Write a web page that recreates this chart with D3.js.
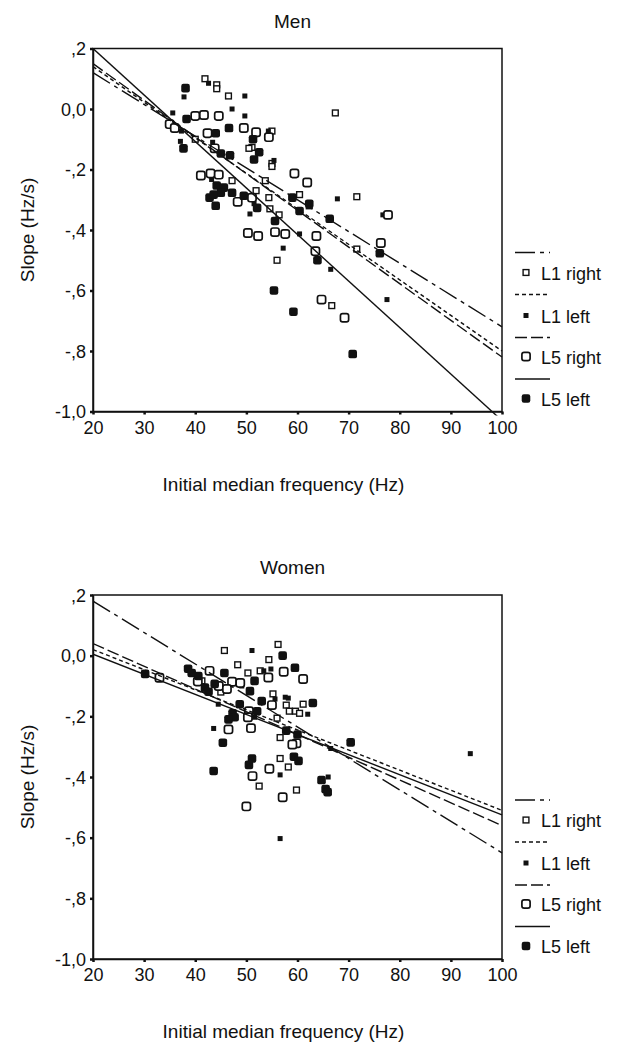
<!DOCTYPE html>
<html><head><meta charset="utf-8">
<script src="https://cdn.jsdelivr.net/npm/d3@7"></script>
<style>body{margin:0;background:#fff}svg{display:block}text{font-family:"Liberation Sans",Arial,sans-serif;fill:#111}</style>
</head><body>
<svg id="c" width="618" height="1042"></svg>
<script>
const xTicks = [20,30,40,50,60,70,80,90,100];
const yTicks = [0.2,0,-0.2,-0.4,-0.6,-0.8,-1.0];
const yTickLabels = [",2","0,0","-,2","-,4","-,6","-,8","-1,0"];
const seriesNames = ["L1 right","L1 left","L5 right","L5 left"];

// Men data [frequency, slope]
const menL1right = [[41.9,0.10],[44.2,0.08],[44.2,0.067],[46.5,0.043],[67.4,-0.013],[40,-0.10],[51.1,-0.127],[50.5,-0.13],[55,-0.073],[55,-0.18],[55,-0.19],[47.2,-0.237],[53.7,-0.237],[51.9,-0.27],[54.4,-0.293],[60.4,-0.283],[54.6,-0.33],[62.3,-0.32],[56.4,-0.35],[71.6,-0.29],[71.6,-0.463],[56,-0.50],[66.7,-0.65]];
const menL1left = [[42.6,0.085],[37.8,0.04],[49.7,0.043],[47.2,0.0],[49.7,-0.023],[35.6,-0.013],[37.3,-0.073],[37.1,-0.107],[43.4,-0.11],[54.3,-0.073],[55.4,-0.17],[43.2,-0.233],[51.5,-0.313],[50.7,-0.347],[60.4,-0.413],[57.2,-0.46],[66.5,-0.53],[67.8,-0.297],[76.7,-0.35],[77.5,-0.63]];
const menL5right = [[40,-0.023],[41.7,-0.02],[44.6,-0.023],[49.5,-0.063],[35,-0.05],[36,-0.063],[42.4,-0.08],[43.8,-0.13],[51.9,-0.077],[54.4,-0.093],[41.1,-0.22],[43,-0.213],[44.6,-0.217],[48.3,-0.307],[51.1,-0.293],[50.3,-0.41],[52.3,-0.42],[55.6,-0.407],[57.6,-0.413],[59.4,-0.213],[61.9,-0.243],[63.7,-0.42],[63.5,-0.47],[77.7,-0.35],[76.3,-0.443],[64.7,-0.63],[69.2,-0.69]];
const menL5left = [[38.1,0.069],[38.3,-0.033],[37.7,-0.13],[44,-0.08],[45,-0.147],[46.8,-0.153],[46.6,-0.063],[51.3,-0.10],[52.5,-0.143],[51.5,-0.167],[44.2,-0.253],[45.6,-0.26],[45,-0.277],[42.8,-0.293],[43.6,-0.283],[47.2,-0.277],[49.5,-0.287],[44,-0.32],[52.1,-0.327],[55.6,-0.37],[59,-0.293],[62.3,-0.313],[60.4,-0.337],[66.3,-0.363],[76.1,-0.477],[63.9,-0.50],[55.4,-0.60],[59.2,-0.67],[70.8,-0.81]];
// Men regression lines: value at 20 Hz and at 100 Hz
const menFitStart = [0.12,0.14,0.15,0.20];
const menFitEnd = [-0.72,-0.80,-0.82,-1.03];

// Women data
const womenL1right = [[45.7,0.017],[56.2,0.037],[54.4,-0.013],[48.3,-0.03],[50.3,-0.057],[52.7,-0.05],[41.3,-0.083],[41.9,-0.11],[55.2,-0.126],[57.8,-0.163],[58.4,-0.183],[59.6,-0.183],[61.1,-0.16],[56,-0.206],[56.6,-0.27],[56.6,-0.339],[58.2,-0.367],[52.5,-0.43],[59.8,-0.443],[60.4,-0.19],[45,-0.12]];
const womenL1left = [[51.1,0.017],[53.4,-0.05],[49.1,-0.1],[57.6,-0.137],[58.2,-0.14],[62,-0.193],[51.6,-0.203],[43.6,-0.24],[66.5,-0.306],[56.6,-0.393],[66,-0.4],[56.6,-0.603],[93.8,-0.323],[55.6,-0.143],[54.8,-0.044],[44.5,-0.16]];
const womenL5right = [[57.3,-0.053],[54.3,-0.072],[61.1,-0.077],[42.8,-0.05],[47.2,-0.086],[44.6,-0.1],[46.2,-0.11],[48.8,-0.09],[55,-0.163],[50.5,-0.183],[50.3,-0.203],[50.9,-0.239],[46.5,-0.243],[59.8,-0.289],[59,-0.293],[54.5,-0.373],[51.2,-0.397],[57.1,-0.467],[50,-0.497],[33,-0.073],[40.5,-0.085]];
const womenL5left = [[57.1,0.0],[59.5,-0.04],[38.6,-0.043],[39.3,-0.057],[40.6,-0.067],[45.7,-0.057],[43.8,-0.093],[51.6,-0.083],[50.7,-0.117],[41.9,-0.105],[42.6,-0.119],[63,-0.156],[48.7,-0.16],[47.3,-0.19],[47.7,-0.203],[46.5,-0.21],[52.1,-0.183],[45.4,-0.287],[57.8,-0.247],[60,-0.26],[70.4,-0.286],[51.1,-0.339],[50.5,-0.36],[59.3,-0.333],[60.2,-0.347],[43.6,-0.38],[64.7,-0.41],[65.5,-0.44],[65.9,-0.45],[30.2,-0.06],[53,-0.15]];
const womenFitStart = [0.18,0.02,0.04,0.005];
const womenFitEnd = [-0.65,-0.51,-0.56,-0.525];

const panels = [
  {title:"Men", top:48.5, bottom:411.5, series:[menL1right,menL1left,menL5right,menL5left], fs:menFitStart, fe:menFitEnd},
  {title:"Women", top:595, bottom:959, series:[womenL1right,womenL1left,womenL5right,womenL5left], fs:womenFitStart, fe:womenFitEnd}
];
const dashes = ["20,5,4,5","4,3","12,4",null];
const left = 93, right = 502;
const svg = d3.select("#c");

function marker(g, kind, cx, cy){
  if(kind===0) g.append("rect").attr("x",cx-2.9).attr("y",cy-2.9).attr("width",5.8).attr("height",5.8).attr("fill","#fff").attr("stroke","#111").attr("stroke-width",1.4);
  else if(kind===1) g.append("rect").attr("x",cx-2.5).attr("y",cy-2.5).attr("width",5).attr("height",5).attr("fill","#111");
  else if(kind===2) g.append("rect").attr("x",cx-4.1).attr("y",cy-4.1).attr("width",8.2).attr("height",8.2).attr("rx",2.2).attr("fill","#fff").attr("stroke","#111").attr("stroke-width",1.7);
  else g.append("rect").attr("x",cx-4.3).attr("y",cy-4.3).attr("width",8.6).attr("height",8.6).attr("rx",2.2).attr("fill","#111");
}

panels.forEach(p=>{
  const x = d3.scaleLinear().domain([20,100]).range([left,right]);
  const y = d3.scaleLinear().domain([0.2,-1.0]).range([p.top,p.bottom]);
  const g = svg.append("g");
  const clipId = "clip"+p.title;
  svg.append("clipPath").attr("id",clipId).append("rect").attr("x",left).attr("y",p.top-2).attr("width",right-left+2).attr("height",p.bottom-p.top+6);
  g.append("rect").attr("x",left).attr("y",p.top).attr("width",right-left).attr("height",p.bottom-p.top).attr("fill","none").attr("stroke","#111").attr("stroke-width",1.5);
  const xa = g.append("g").attr("transform",`translate(0,${p.bottom})`).call(d3.axisBottom(x).tickValues(xTicks).tickSize(3).tickSizeOuter(0).tickFormat(d3.format("d")));
  const ya = g.append("g").attr("transform",`translate(${left},0)`).call(d3.axisLeft(y).tickValues(yTicks).tickSize(3).tickSizeOuter(0).tickFormat((d,i)=>yTickLabels[i]));
  [xa,ya].forEach(a=>{a.select(".domain").attr("stroke","#111").attr("stroke-width",1.5);a.selectAll(".tick line").attr("stroke","#111").attr("stroke-width",2.5);a.selectAll("text").attr("font-size",18).attr("fill","#111").style("font-family","'Liberation Sans',Arial,sans-serif");});
  xa.selectAll("text").attr("dy","0.9em");
  ya.selectAll("text").attr("x",-7).attr("dy","0.35em");
  const pg = g.append("g");
  p.series.forEach((s,k)=>s.forEach(d=>marker(pg,k,x(d[0]),y(d[1]))));
  const lg = g.append("g").attr("clip-path",`url(#${clipId})`);
  p.fs.forEach((v,k)=>{
    const l = lg.append("line").attr("x1",x(20)).attr("y1",y(v)).attr("x2",x(100)).attr("y2",y(p.fe[k])).attr("stroke","#111").attr("stroke-width",1.4);
    if(dashes[k]) l.attr("stroke-dasharray",dashes[k]);
  });
  g.append("text").attr("x",(left+right)/2-5).attr("y",p.top-21).attr("text-anchor","middle").attr("font-size",19).text(p.title);
  g.append("text").attr("x",(left+right)/2-14).attr("y",p.bottom+79).attr("text-anchor","middle").attr("font-size",19).text("Initial median frequency (Hz)");
  g.append("text").attr("transform",`translate(34,${(p.top+p.bottom)/2}) rotate(-90)`).attr("text-anchor","middle").attr("font-size",19).text("Slope (Hz/s)");
  const leg = g.append("g");
  const lineOff = [-159,-117,-74,-32.5];
  const textOff = [-138,-95,-54,-12];
  seriesNames.forEach((n,k)=>{
    const ly = p.bottom+lineOff[k];
    const l = leg.append("line").attr("x1",515).attr("x2",550).attr("y1",ly).attr("y2",ly).attr("stroke","#111").attr("stroke-width",1.4);
    if(dashes[k]) l.attr("stroke-dasharray",dashes[k]);
    const ty = p.bottom+textOff[k];
    marker(leg,k,526,ty-1);
    leg.append("text").attr("x",541).attr("y",ty).attr("dy","0.35em").attr("font-size",18).text(n);
  });
});
</script>
</body></html>
